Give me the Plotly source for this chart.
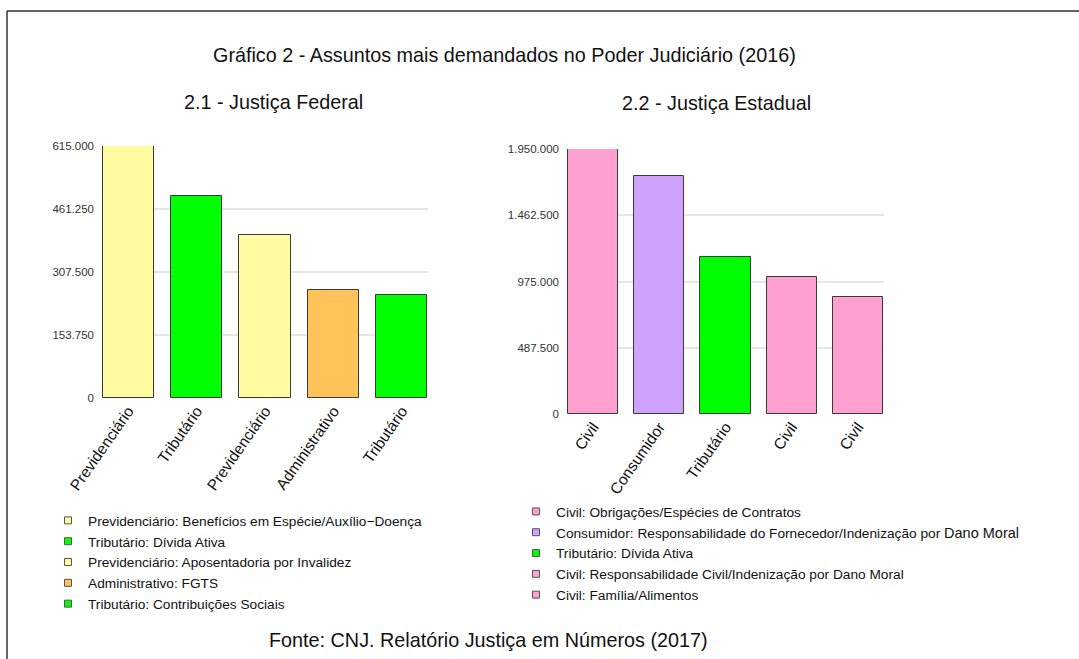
import plotly.graph_objects as go

W, H = 1079, 659

# ---------------- data ----------------
fed_categories = ["Previdenciário", "Tributário", "Previdenciário", "Administrativo", "Tributário"]
fed_subjects = [
    "Previdenciário: Benefícios em Espécie/Auxílio−Doença",
    "Tributário: Dívida Ativa",
    "Previdenciário: Aposentadoria por Invalidez",
    "Administrativo: FGTS",
    "Tributário: Contribuições Sociais",
]
fed_values = [614000, 492000, 398500, 263000, 250500]
fed_colors = ["#FFFBA0", "#00FF00", "#FFFBA0", "#FFC35A", "#00FF00"]
fed_ticks = [0, 153750, 307500, 461250, 615000]

est_categories = ["Civil", "Consumidor", "Tributário", "Civil", "Civil"]
est_subjects = [
    "Civil: Obrigações/Espécies de Contratos",
    "Consumidor: Responsabilidade do Fornecedor/Indenização por <span style='font-size:14.5px'>Dano Moral</span>",
    "Tributário: Dívida Ativa",
    "Civil: Responsabilidade Civil/Indenização por Dano Moral",
    "Civil: Família/Alimentos",
]
est_values = [1948000, 1751000, 1155000, 1010000, 858000]
est_colors = ["#FFA1D0", "#D0A2FF", "#00FF00", "#FFA1D0", "#FFA1D0"]
est_ticks = [0, 487500, 975000, 1462500, 1950000]

SANS = "Liberation Sans, Arial, sans-serif"


def px(x):
    return x / W


def py(y):
    return 1 - y / H


fig = go.Figure()

fig.add_trace(go.Bar(
    x=list(range(len(fed_values))), y=fed_values, width=0.745,
    marker=dict(color=fed_colors, line=dict(color="#3a3a3a", width=1)),
    showlegend=False, xaxis="x", yaxis="y", hoverinfo="y",
))
fig.add_trace(go.Bar(
    x=list(range(len(est_values))), y=est_values, width=0.76,
    marker=dict(color=est_colors, line=dict(color="#3a3a3a", width=1)),
    showlegend=False, xaxis="x2", yaxis="y2", hoverinfo="y",
))

for name, col in zip(fed_subjects, fed_colors):
    fig.add_trace(go.Scatter(
        x=[None], y=[None], mode="markers", name=name, legend="legend",
        marker=dict(symbol="square", size=7, color=col, line=dict(color="#555555", width=1)),
        xaxis="x", yaxis="y",
    ))
for name, col in zip(est_subjects, est_colors):
    fig.add_trace(go.Scatter(
        x=[None], y=[None], mode="markers", name=name, legend="legend2",
        marker=dict(symbol="square", size=7, color=col, line=dict(color="#555555", width=1)),
        xaxis="x2", yaxis="y2",
    ))

xcommon = dict(
    tickmode="array", tickangle=-55, showgrid=False, zeroline=False, showline=False,
    ticks="", tickfont=dict(family=SANS, size=15.5, color="#111111"), fixedrange=True,
    automargin=False,
)
ycommon = dict(
    tickmode="array", showgrid=True, gridcolor="#E6E6E6", gridwidth=1.5, zeroline=False,
    showline=False, ticks="", tickformat=",.0f", ticklabelstandoff=7,
    tickfont=dict(family=SANS, size=11.5, color="#333333"), fixedrange=True,
    automargin=False,
)

TITLE_FONT = dict(family=SANS, size=19.8, color="#111111")

fig.update_layout(
    width=W, height=H,
    margin=dict(l=0, r=0, t=0, b=0, autoexpand=False),
    paper_bgcolor="white", plot_bgcolor="white",
    separators=",.",
    bargap=0,
    xaxis=dict(xcommon, domain=[px(102), px(428)], range=[-0.38, 4.38],
               tickvals=list(range(5)), ticktext=fed_categories, anchor="y"),
    yaxis=dict(ycommon, domain=[py(398), py(146)], range=[0, 615000],
               tickvals=fed_ticks, anchor="x"),
    xaxis2=dict(xcommon, domain=[px(567), px(884)], range=[-0.395, 4.395],
                tickvals=list(range(5)), ticktext=est_categories, anchor="y2"),
    yaxis2=dict(ycommon, domain=[py(414), py(149)], range=[0, 1950000],
                tickvals=est_ticks, anchor="x2"),
    legend=dict(x=px(48), y=py(505), xanchor="left", yanchor="top",
                font=dict(family=SANS, size=13.7, color="#111111"),
                bgcolor="rgba(0,0,0,0)", tracegroupgap=0, itemclick=False),
    legend2=dict(x=px(516), y=py(496), xanchor="left", yanchor="top",
                 font=dict(family=SANS, size=13.7, color="#111111"),
                 bgcolor="rgba(0,0,0,0)", tracegroupgap=0, itemclick=False),
    annotations=[
        dict(text="Gráfico 2 - Assuntos mais demandados no Poder Judiciário (2016)",
             x=px(504), y=py(55), font=TITLE_FONT),
        dict(text="2.1 - Justiça Federal", x=px(273), y=py(102), font=TITLE_FONT),
        dict(text="2.2 - Justiça Estadual", x=px(716), y=py(103), font=TITLE_FONT),
        dict(text="Fonte: CNJ. Relatório Justiça em Números (2017)", x=px(488), y=py(640),
             font=TITLE_FONT),
    ],
    shapes=[
        dict(type="line", xref="paper", yref="paper", x0=px(7), x1=1, y0=py(11), y1=py(11),
             line=dict(color="#333333", width=1.5)),
        dict(type="line", xref="paper", yref="paper", x0=px(7), x1=px(7), y0=py(11), y1=0,
             line=dict(color="#333333", width=1.5)),
    ],
)
fig.update_annotations(xref="paper", yref="paper", showarrow=False,
                       xanchor="center", yanchor="middle")

fig.write_html(
    "out.html",
    config={"displayModeBar": False, "displaylogo": False},
    post_script="document.body.style.margin='0';document.body.style.overflow='hidden';",
)
